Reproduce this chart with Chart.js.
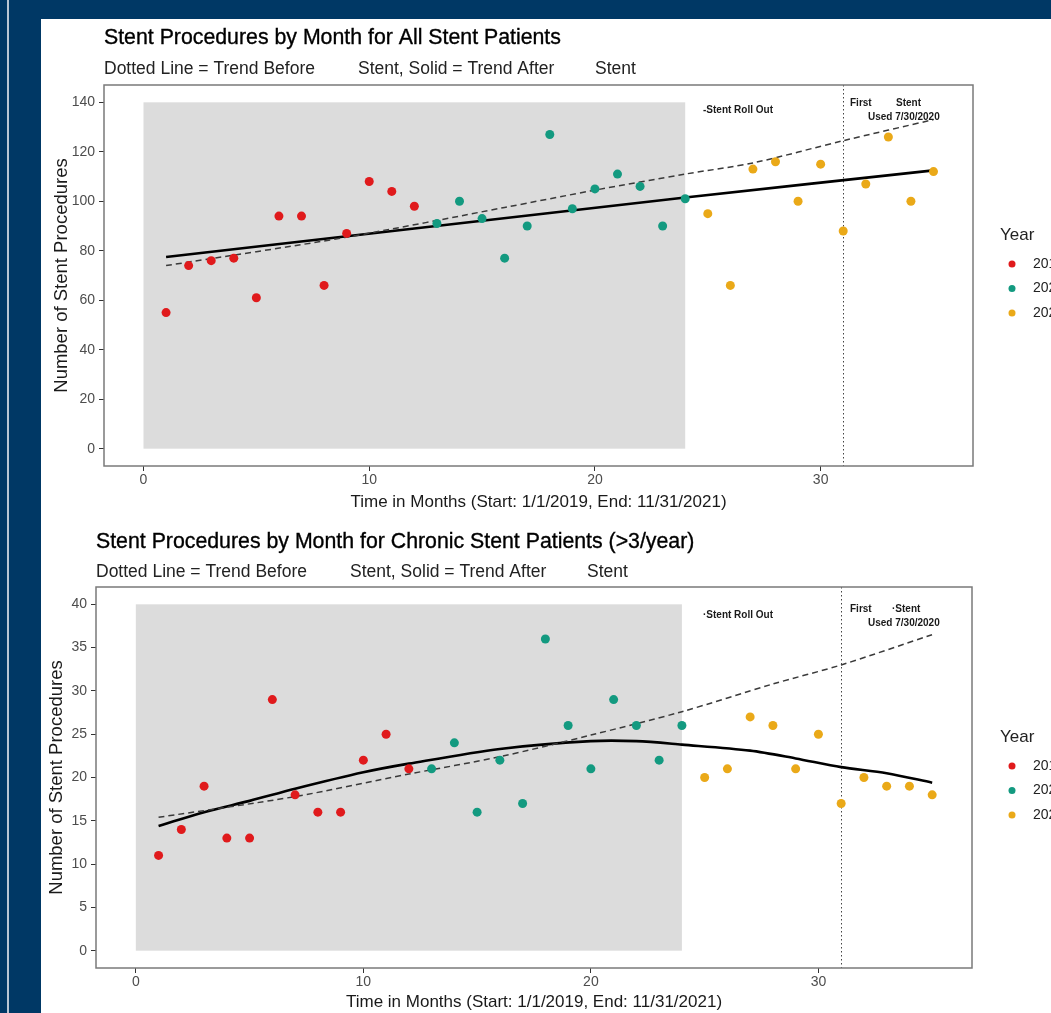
<!DOCTYPE html>
<html lang="en">
<head>
<meta charset="UTF-8">
<title>Stent Procedures by Month</title>
<script src="https://cdn.jsdelivr.net/npm/chart.js"></script>
<style>
  body { margin: 0; width: 1051px; height: 1013px; overflow: hidden; position: relative; background: #003865; }
  #stripe { position: absolute; left: 7px; top: 0; width: 2px; height: 1013px; background: #b9c6d3; }
  #panel { position: absolute; left: 41px; top: 19px; width: 1010px; height: 994px; background: #fff; }
  .box { position: absolute; left: 41px; width: 1010px; }
  #box1 { top: 19px; height: 501px; }
  #box2 { top: 520px; height: 493px; }
</style>
</head>
<body>
<div id="stripe"></div>
<div id="panel"></div>
<div class="box" id="box1"><canvas id="allChart"></canvas></div>
<div class="box" id="box2"><canvas id="chronicChart"></canvas></div>

<script>
// ---- data ----
const months = [1, 2, 3, 4, 5, 6, 7, 8, 9, 10, 11, 12, 13, 14, 15, 16, 17, 18, 19, 20,
                21, 22, 23, 24, 25, 26, 27, 28, 29, 30, 31, 32, 33, 34, 35];
const allStent = [55, 74, 76, 77, 61, 94, 94, 66, 87, 108, 104, 98,
                  91, 100, 93, 77, 90, 127, 97, 105, 111, 106, 90, 101,
                  95, 66, 113, 116, 100, 115, 88, 107, 126, 100, 112];
const chronicStent = [11, 14, 19, 13, 13, 29, 18, 16, 16, 22, 25, 21,
                      21, 24, 16, 22, 17, 36, 26, 21, 29, 26, 22, 26,
                      20, 21, 27, 26, 21, 25, 17, 20, 19, 19, 18];
const yearLabels = ['2019', '2020', '2021'];
const yearFirstMonth = [1, 13, 25];

// trend lines, read at a few months along each curve
const allBeforeMonths = [1, 9, 16, 20, 24, 27, 31, 35];
const allBeforeTrend = [74, 85.5, 97.5, 104.5, 111, 115.5, 124.5, 133];
const allAfterMonths = [1, 12, 24, 35];
const allAfterTrend = [77.5, 89, 101.5, 112.5];
const chronicBeforeMonths = [1, 7, 12, 16, 20, 24, 28, 31, 35];
const chronicBeforeTrend = [15.4, 17.8, 20.4, 22.4, 24.9, 27.6, 30.8, 33.0, 36.5];
const chronicAfterMonths = [1, 3, 5, 7, 10, 12, 16, 20, 22, 24, 27, 29, 31, 33, 35];
const chronicAfterTrend = [14.4, 16.0, 17.3, 18.7, 20.6, 21.6, 23.3, 24.2, 24.2, 23.8, 23.1, 22.2, 21.2, 20.5, 19.4];

const xTicks = [0, 10, 20, 30];
const allYTicks = [0, 20, 40, 60, 80, 100, 120, 140];
const chronicYTicks = [0, 5, 10, 15, 20, 25, 30, 35, 40];
const rollOutWindow = [0, 24];
const firstStentMonth = 31;

const subtitleParts = ['Dotted Line = Trend Before', 'Stent, Solid = Trend After', 'Stent'];

// ---- styling ----
const FONT = '"Liberation Sans", Arial, sans-serif';
const yearColors = ['#e01a1c', '#139a80', '#eaa918'];
Chart.defaults.font.family = FONT;

function pts(xs, ys) {
    return xs.map((m, i) => ({ x: m, y: ys[i] }));
}

const decor = {
    id: 'decor',
    beforeDatasetsDraw(chart, args, o) {
        const { ctx, chartArea: a, scales: { x, y } } = chart;
        ctx.save();
        // grey roll-out window
        const x0 = x.getPixelForValue(rollOutWindow[0]);
        const x1 = x.getPixelForValue(rollOutWindow[1]);
        const y0 = y.getPixelForValue(o.shadeTop);
        const y1 = y.getPixelForValue(0);
        ctx.fillStyle = '#dcdcdc';
        ctx.fillRect(x0, y0, x1 - x0, y1 - y0);
        // dotted line: first stent used
        const vx = Math.round(x.getPixelForValue(firstStentMonth)) + 0.5;
        ctx.strokeStyle = '#444';
        ctx.lineWidth = 1;
        ctx.setLineDash([1.5, 2.5]);
        ctx.beginPath();
        ctx.moveTo(vx, a.top);
        ctx.lineTo(vx, a.bottom);
        ctx.stroke();
        ctx.restore();
    },
    afterDraw(chart, args, o) {
        const { ctx, chartArea: a } = chart;
        ctx.save();
        ctx.strokeStyle = '#7a7a7a';
        ctx.lineWidth = 1.5;
        ctx.strokeRect(a.left, a.top, a.right - a.left, a.bottom - a.top);

        ctx.textAlign = 'left';
        ctx.textBaseline = 'alphabetic';
        ctx.fillStyle = '#000';
        ctx.strokeStyle = '#000';
        ctx.lineWidth = 0.35;
        ctx.font = '21.3px ' + FONT;
        ctx.fillText(o.title, a.left, o.titleY);
        ctx.strokeText(o.title, a.left, o.titleY);
        ctx.fillStyle = '#222';
        ctx.font = '17.5px ' + FONT;
        const offs = [0, 254, 491];
        subtitleParts.forEach((p, i) => ctx.fillText(p, a.left + offs[i], o.subtitleY));

        // annotations
        ctx.fillStyle = '#1a1a1a';
        ctx.font = 'bold 10px ' + FONT;
        ctx.fillText(o.rollOutText, 662, a.top + o.rollOutDy);
        ctx.fillText('First', 809, a.top + o.firstDy);
        ctx.fillText(o.stentText, o.stentX, a.top + o.firstDy);
        ctx.fillText('Used 7/30/2020', 827, a.top + o.firstDy + 14.5);

        // legend
        ctx.fillStyle = '#222';
        ctx.font = '17px ' + FONT;
        ctx.fillText('Year', 959, o.legendTop);
        ctx.font = '14px ' + FONT;
        yearLabels.forEach((lab, i) => {
            const cy = o.legendTop + 24 + i * 24.5;
            ctx.fillStyle = yearColors[i];
            ctx.beginPath();
            ctx.arc(971, cy, 3.5, 0, Math.PI * 2);
            ctx.fill();
            ctx.fillStyle = '#222';
            ctx.textBaseline = 'middle';
            ctx.fillText(lab, 992, cy);
            ctx.textBaseline = 'alphabetic';
        });
        ctx.restore();
    }
};

function makeChart(id, counts, c) {
    const datasets = [];
    yearLabels.forEach((lab, i) => {
        const start = yearFirstMonth[i];
        const end = i + 1 < yearFirstMonth.length ? yearFirstMonth[i + 1] : Infinity;
        const data = [];
        months.forEach((m, k) => { if (m >= start && m < end) data.push({ x: m, y: counts[k] }); });
        datasets.push({
            label: lab, data, showLine: false, order: 0,
            pointRadius: 4.5, pointHoverRadius: 4.5, pointBorderWidth: 0,
            pointBackgroundColor: yearColors[i], backgroundColor: yearColors[i]
        });
    });
    datasets.push({
        label: 'before', data: pts(c.beforeX, c.beforeY), showLine: true, order: 1,
        borderColor: '#3a3a3a', borderWidth: 1.5, borderDash: [6, 4], pointRadius: 0, tension: 0.3
    });
    datasets.push({
        label: 'after', data: pts(c.afterX, c.afterY), showLine: true, order: 1,
        borderColor: '#000', borderWidth: 2.6, pointRadius: 0, tension: 0.3
    });

    const tickGrid = { display: true, drawOnChartArea: false, drawTicks: true, tickLength: 5, color: '#333', lineWidth: 1 };
    return new Chart(document.getElementById(id), {
        type: 'scatter',
        data: { datasets },
        plugins: [decor],
        options: {
            responsive: true,
            maintainAspectRatio: false,
            animation: false,
            layout: { padding: { left: 0, right: c.padRight, top: c.padTop, bottom: 0 } },
            plugins: {
                legend: { display: false },
                tooltip: { enabled: false },
                decor: c.decor
            },
            scales: {
                x: {
                    type: 'linear', min: -1.75, max: 36.75,
                    afterBuildTicks: s => { s.ticks = xTicks.map(v => ({ value: v })); },
                    afterFit: s => { s.height = c.xHeight; },
                    grid: tickGrid,
                    border: { display: false },
                    ticks: { color: '#4d4d4d', font: { size: 14 }, padding: 1, maxRotation: 0 },
                    title: {
                        display: true, text: 'Time in Months (Start: 1/1/2019, End: 11/31/2021)',
                        color: '#1a1a1a', font: { size: 17 }, padding: { top: 0, bottom: c.xTitlePad }
                    }
                },
                y: {
                    type: 'linear', min: c.yMin, max: c.yMax,
                    afterBuildTicks: s => { s.ticks = c.yTicks.map(v => ({ value: v })); },
                    afterFit: s => { s.width = c.yWidth; },
                    grid: tickGrid,
                    border: { display: false },
                    ticks: { color: '#4d4d4d', font: { size: 14 }, padding: 4 },
                    title: {
                        display: true, text: 'Number of Stent Procedures',
                        color: '#1a1a1a', font: { size: 18.5 }, padding: { top: c.yTitlePad, bottom: 0 }
                    }
                }
            }
        }
    });
}

makeChart('allChart', allStent, {
    beforeX: allBeforeMonths, beforeY: allBeforeTrend,
    afterX: allAfterMonths, afterY: allAfterTrend,
    yTicks: allYTicks, yMin: -7, yMax: 147,
    padRight: 78, padTop: 66, xHeight: 54, yWidth: 63, xTitlePad: 7, yTitlePad: 10,
    decor: {
        shadeTop: 140, title: 'Stent Procedures by Month for All Stent Patients',
        titleY: 25, subtitleY: 54.5, rollOutText: '-Stent Roll Out', rollOutDy: 27.5,
        firstDy: 20.5, stentText: 'Stent', stentX: 855, legendTop: 221
    }
});

makeChart('chronicChart', chronicStent, {
    beforeX: chronicBeforeMonths, beforeY: chronicBeforeTrend,
    afterX: chronicAfterMonths, afterY: chronicAfterTrend,
    yTicks: chronicYTicks, yMin: -2, yMax: 42,
    padRight: 79, padTop: 67, xHeight: 45, yWidth: 55, xTitlePad: 0, yTitlePad: 5,
    decor: {
        shadeTop: 40, title: 'Stent Procedures by Month for Chronic Stent Patients (>3/year)',
        titleY: 28, subtitleY: 56.5, rollOutText: '\u00b7Stent Roll Out', rollOutDy: 31,
        firstDy: 24.5, stentText: '\u00b7Stent', stentX: 851, legendTop: 222
    }
});
</script>
</body>
</html>
